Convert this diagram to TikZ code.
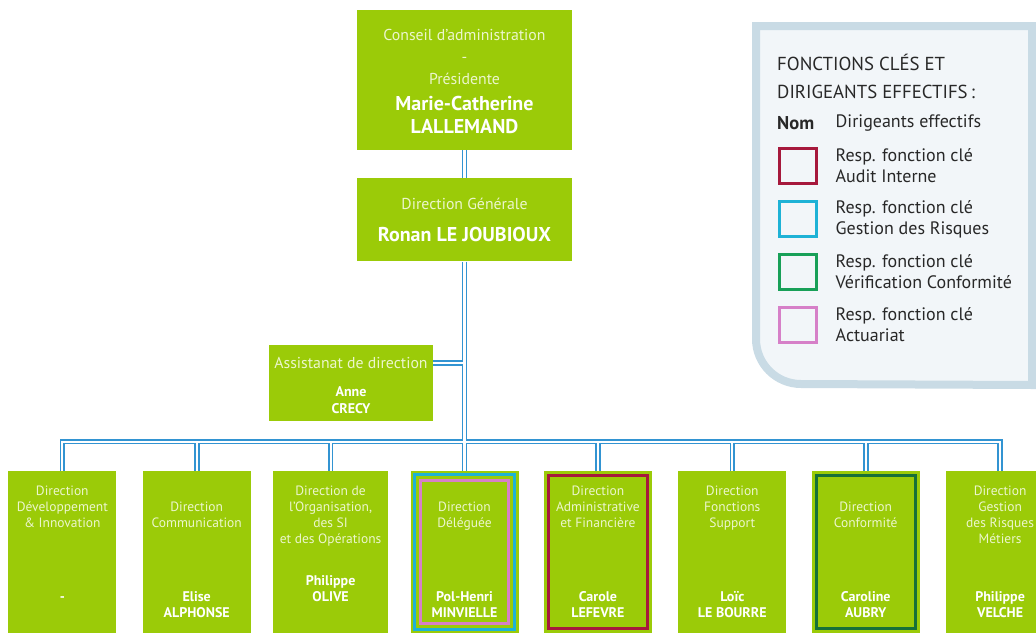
\documentclass[tikz,border=0pt]{standalone}
\usepackage{fontspec}
\setmainfont{PT Sans}
\usetikzlibrary{positioning, fit, calc}

\definecolor{boxgreen}{RGB}{155,203,8}
\definecolor{titlecol}{RGB}{236,246,205}
\definecolor{linkblue}{RGB}{50,148,210}
\definecolor{auditred}{RGB}{166,25,60}
\definecolor{riskcyan}{RGB}{30,178,214}
\definecolor{conformgreen}{RGB}{24,160,88}
\definecolor{conformdark}{RGB}{22,112,56}
\definecolor{actpink}{RGB}{214,128,200}
\definecolor{legfill}{RGB}{242,246,249}
\definecolor{legborder}{RGB}{201,219,229}
\definecolor{legtext}{RGB}{40,40,40}

\begin{document}
\begin{tikzpicture}[
    x=1pt, y=1pt,
    node distance=20pt and 25pt,
    link/.style={
        draw=linkblue,
        double=white,
        double distance=2.2pt,
        line width=1.7pt
    },
    head/.style={
        rectangle,
        fill=boxgreen,
        inner sep=0pt,
        minimum width=215pt
    },
    dirbox/.style={
        rectangle,
        fill=boxgreen,
        inner sep=0pt,
        minimum width=108pt,
        minimum height=162pt
    },
    toptext/.style={
        inner sep=0pt,
        align=center,
        text=titlecol,
        font=\fontsize{15.8}{22}\selectfont
    },
    topname/.style={
        inner sep=0pt,
        align=center,
        text=white,
        font=\fontsize{20}{23}\selectfont\bfseries
    },
    dirtext/.style={
        inner sep=0pt,
        align=center,
        text=titlecol,
        font=\fontsize{13.5}{16}\selectfont
    },
    dirname/.style={
        inner sep=0pt,
        align=center,
        text=white,
        font=\fontsize{14}{16.5}\selectfont\bfseries
    },
    keyframe/.style={
        rectangle,
        line width=3pt,
        inner sep=0pt
    },
    keybox/.style={
        keyframe,
        minimum width=37pt,
        minimum height=35pt
    },
    keytext/.style={
        inner sep=0pt,
        align=left,
        text=legtext,
        font=\fontsize{18}{21}\selectfont
    }
]

    \useasboundingbox (0,0) rectangle (1036,-632);

    % --- Legend panel ---
    \draw[line width=8pt, draw=legborder, fill=legfill]
        (756,-26) -- (756,-339) arc[start angle=180, end angle=270, radius=45pt]
        -- (1032,-385) -- (1032,-26) -- cycle;

    \node[keytext, anchor=north west, font=\fontsize{18.8}{28}\selectfont] (keyhd) at (777,-53.5)
        {FONCTIONS CLÉS ET\\DIRIGEANTS EFFECTIFS\,:};
    \node[keytext, anchor=west, font=\fontsize{18.5}{21}\selectfont\bfseries] (keynom) at (777,-123) {Nom};

    % Key squares
    \node[keybox, draw=auditred] (keyaudit) at (797.5,-166) {};
    \node[keybox, draw=riskcyan, below=15pt of keyaudit] (keyrisk) {};
    \node[keybox, draw=conformgreen, below=15pt of keyrisk] (keyconf) {};
    \node[keybox, draw=actpink, below=15pt of keyconf] (keyact) {};

    \node[keytext, right=18pt of keyaudit] (keyauditt) {Resp. fonction clé\\Audit Interne};
    \node[keytext, right=18pt of keyrisk] (keyriskt) {Resp. fonction clé\\Gestion des Risques};
    \node[keytext, right=18pt of keyconf] (keyconft) {Resp. fonction clé\\Vérification Conformité};
    \node[keytext, right=18pt of keyact] (keyactt) {Resp. fonction clé\\Actuariat};
    \node[keytext, anchor=west] (keydir) at (keyauditt.west |- keynom) {Dirigeants effectifs};

    % --- Top of the chart ---

    % Conseil d'administration
    \node[head, minimum height=140pt] (ca) at (464.5,-80) {};
    \node[toptext, below=19.5pt of ca.north] (cat) {Conseil d'administration\\-\\Présidente};
    \node[topname, below=86pt of ca.north] (can) {Marie-Catherine\\LALLEMAND};

    % Direction Generale
    \node[head, minimum height=83pt, below=28pt of ca] (dg) {};
    \node[toptext, below=19.5pt of dg.north] (dgt) {Direction Générale};
    \node[topname, below=49pt of dg.north] (dgn) {Ronan LE JOUBIOUX};

    % Assistanat
    \node[rectangle, fill=boxgreen, inner sep=0pt, minimum width=164pt, minimum height=76pt] (asd) at (351,-383) {};
    \node[toptext, below=12.5pt of asd.north] (asdt) {Assistanat de direction};
    \node[dirname, below=42pt of asd.north] (asdn) {Anne\\CRECY};

    % Bus
    \coordinate[below=180pt of dg.south] (bus);

    % --- Directions ---
    \node[dirbox, below=209pt of dg] (del) {};
    \node[dirbox, minimum width=115pt, left=22pt of del] (org) {};
    \node[dirbox, left=22pt of org] (com) {};
    \node[dirbox, left=26pt of com] (ddi) {};
    \node[dirbox, right=25pt of del] (daf) {};
    \node[dirbox, right=26pt of daf] (dfs) {};
    \node[dirbox, right=25pt of dfs] (dco) {};
    \node[dirbox, right=26pt of dco] (grm) {};

    % Key function frames
    \node[keyframe, draw=riskcyan, fit=(del), inner sep=-4pt] (delrisk) {};
    \node[keyframe, draw=actpink, fit=(del), inner sep=-10pt] (delact) {};
    \node[keyframe, draw=auditred, fit=(daf), inner sep=-4.5pt] (dafaudit) {};
    \node[keyframe, draw=conformdark, fit=(dco), inner sep=-4.5pt] (dcoconf) {};

    % Titles
    \node[dirtext, below=15.5pt of ddi.north] (ddit) {Direction\\Développement\\\& Innovation};
    \node[dirtext, below=31.5pt of com.north] (comt) {Direction\\Communication};
    \node[dirtext, below=15.5pt of org.north] (orgt) {Direction de\\l'Organisation,\\des SI\\et des Opérations};
    \node[dirtext, below=31.5pt of del.north] (delt) {Direction\\Déléguée};
    \node[dirtext, below=15.5pt of daf.north] (daft) {Direction\\Administrative\\et Financière};
    \node[dirtext, below=15.5pt of dfs.north] (dfst) {Direction\\Fonctions\\Support};
    \node[dirtext, below=31.5pt of dco.north] (dcot) {Direction\\Conformité};
    \node[dirtext, below=15.5pt of grm.north] (grmt) {Direction\\Gestion\\des Risques\\Métiers};

    % Names
    \node[dirname, above=31pt of ddi.south] (ddin) {-};
    \node[dirname, above=15pt of com.south] (comn) {Elise\\ALPHONSE};
    \node[dirname, above=31pt of org.south] (orgn) {Philippe\\OLIVE};
    \node[dirname, above=15pt of del.south] (deln) {Pol-Henri\\MINVIELLE};
    \node[dirname, above=15pt of daf.south] (dafn) {Carole\\LEFEVRE};
    \node[dirname, above=15pt of dfs.south] (dfsn) {Loïc\\LE BOURRE};
    \node[dirname, above=15pt of dco.south] (dcon) {Caroline\\AUBRY};
    \node[dirname, above=15pt of grm.south] (grmn) {Philippe\\VELCHE};

    % --- Connectors ---
    \draw[link] (ca) -- (dg)
        (dg) -- (del)
        (asd.east |- asdt) -- (asdt -| dg)
        (ddi) |- (bus) -| (grm)
        (com) -- (com |- bus)
        (org) -- (org |- bus)
        (daf) -- (daf |- bus)
        (dfs) -- (dfs |- bus)
        (dco) -- (dco |- bus);

\end{tikzpicture}
\end{document}
